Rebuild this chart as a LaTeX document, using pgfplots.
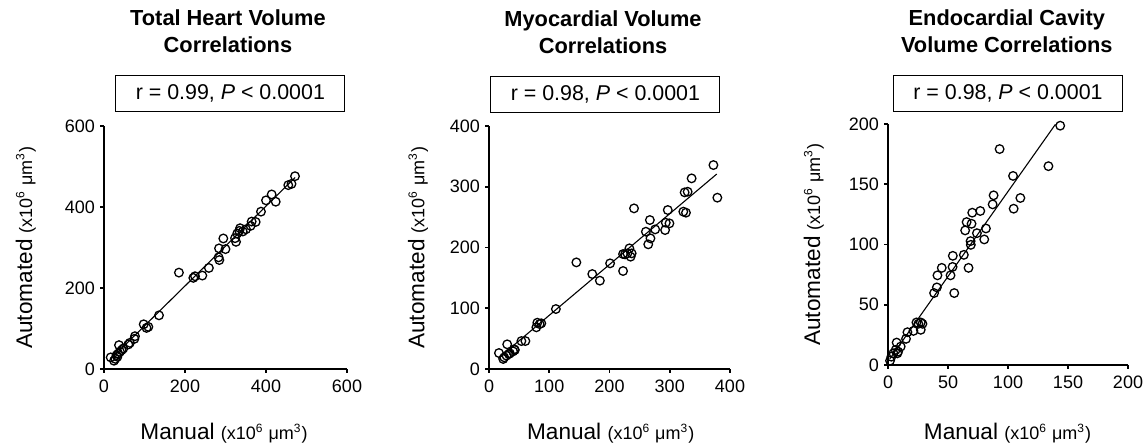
\documentclass[border=0pt]{standalone}
\usepackage{pgfplots}
\pgfplotsset{compat=1.18}
\usepackage{fontspec}
\setmainfont{Liberation Sans}

% 1 px of the reference = 0.5pt
\newcommand{\unitlbl}{{\fontsize{9}{10}\selectfont (x10\textsuperscript{6} μm\textsuperscript{3})}}

\pgfplotsset{
  every axis title shift=0pt,
  panel/.style={
    scale only axis,
    anchor=south west,
    axis lines*=left,
    axis line style={line width=0.85pt, black},
    tick align=outside,
    major tick length=2pt,
    tick style={line width=0.85pt, black},
    minor tick num=0,
    xmin=0, ymin=0,
    clip=false,
    /pgf/number format/assume math mode=true,
    tick label style={font=\fontsize{9}{10}\selectfont},
    yticklabel style={xshift=1pt},
    label style={font=\fontsize{11.3}{13}\selectfont},
    title style={anchor=north, align=center, inner sep=0pt,
      font=\bfseries\fontsize{10.9}{13.5}\selectfont},
    xlabel={Manual \unitlbl},
    ylabel={Automated \unitlbl},
  },
  pts/.style={only marks, mark=o, mark size=2.15pt, black, mark options={line width=0.65pt}},
  fit/.style={no marks, black, line width=0.55pt},
}
\tikzset{rbox/.style={draw, line width=0.5pt, minimum width=114.5pt, minimum height=18pt,
  inner sep=0pt, font=\fontsize{10.7}{12}\selectfont}}

\begin{document}
\begin{tikzpicture}
\path[use as bounding box] (0,0) rectangle (572.5pt,224pt);

% ---- Total heart volume ----
\begin{axis}[panel, at={(52pt,39.5pt)}, width=121.5pt, height=121.5pt,
  xmax=600, ymax=600, xtick={0,200,400,600}, ytick={0,200,400,600},
  title={Total Heart Volume\\Correlations},
  title style={at={(axis description cs:0.51,1.479)}},
  xlabel style={at={(axis description cs:0.494,-0.292)}, anchor=base},
  ylabel style={at={(axis description cs:-0.296,0.5)}, anchor=base}]
\addplot[fit] coordinates {(17,24.7) (472,473)};
\addplot[pts] coordinates {
  (16.5,28.6) (24.7,20.4) (28,25) (31,34) (33,30) (35,38) (37,58.9) (39.5,42.5)
  (43.6,46.6) (47.7,50.7) (60,60.5) (64,64.6) (75,74.4) (76.5,81) (98,110.4)
  (105,101.4) (109.5,104) (135.8,132.5) (185,238) (220.6,225) (224.7,229)
  (242.8,230.7) (259,249.5) (283,275.7) (284.8,269) (284,297.8) (294.6,322.3)
  (300,296) (323.5,323) (326,314) (329,334.6) (334,341) (336,347.6) (342.6,339.5)
  (350.6,345) (362,353.4) (364.6,364) (374.5,363) (387.6,388.5) (400,416.4)
  (414,431) (424,413) (455,454) (463,457) (471.6,476)
};
\node[rbox] at (axis description cs:0.52,1.133) {r = 0.99, \textit{P} < 0.0001};
\end{axis}

% ---- Myocardial volume ----
\begin{axis}[panel, at={(244.5pt,39.5pt)}, width=120.5pt, height=121.5pt,
  xmax=400, ymax=400, xtick={0,100,200,300,400}, ytick={0,100,200,300,400},
  title={Myocardial Volume\\Correlations},
  title style={at={(axis description cs:0.473,1.476)}},
  xlabel style={at={(axis description cs:0.505,-0.292)}, anchor=base},
  ylabel style={at={(axis description cs:-0.268,0.5)}, anchor=base}]
\addplot[fit] coordinates {(15.4,17.6) (378,320.9)};
\addplot[pts] coordinates {
  (16.5,26.3) (23.6,16.5) (25.3,19.2) (29,22) (30.2,40.6) (33,24.7) (34.6,25.8)
  (40,29) (41.8,32.4) (42.9,31.3) (53.8,46) (60.4,46) (78.6,68.6) (80.2,76.2)
  (84,74) (86.8,75.2) (111,98.7) (145,175.5) (171.4,156.3) (184,145.4)
  (201,173.9) (222.5,161.3) (222.5,189.2) (225.8,188.7) (229.7,190.3)
  (233,198.6) (235,184.9) (236.8,190.3) (240.7,264.4) (260.4,226) (264.3,205.2)
  (267,245.2) (268,215) (275.8,229.8) (292.3,228.7) (293.4,240.8) (296.7,261.7)
  (299.5,239.7) (322.5,259) (326.9,257.3) (324.7,290.7) (329.7,291.8)
  (336.3,313.8) (372.5,335.7) (379,282)
};
\node[rbox] at (axis description cs:0.483,1.131) {r = 0.98, \textit{P} < 0.0001};
\end{axis}

% ---- Endocardial cavity volume ----
\begin{axis}[panel, at={(444pt,41.5pt)}, width=120pt, height=120.5pt,
  xmax=200, ymax=200, xtick={0,50,100,150,200}, ytick={0,50,100,150,200},
  title={Endocardial Cavity\\Volume Correlations},
  title style={at={(axis description cs:0.495,1.474)}},
  xlabel style={at={(axis description cs:0.498,-0.311)}, anchor=base},
  ylabel style={at={(axis description cs:-0.283,0.5)}, anchor=base}]
\addplot[fit] coordinates {(1.5,5.1) (139.5,199.7)};
\addplot[pts] coordinates {
  (1.7,3.6) (2.8,6.9) (4.5,9.7) (6.4,12.5) (7.2,18.6) (7.8,9.7) (8.4,11.1)
  (10.6,15.3) (15,21.7) (16.2,27.2) (21.2,28.3) (23.7,35.3) (25.3,34.2)
  (27.3,35.3) (27.3,29.2) (28.7,34.2) (38.4,59.7) (40.7,64.4) (41.2,74.4)
  (44.8,80.6) (52.1,74.4) (53.8,81.4) (54,90.6) (55.2,59.7) (63.2,91.4)
  (64.3,111.7) (65.5,118.6) (67.1,80.6) (68.8,102.8) (69,99.7) (69.6,117.2)
  (70.2,126.4) (74.1,109.4) (76.9,127.8) (80.2,104.2) (81.6,113.3) (87.2,133.3)
  (88,140.8) (93,179.2) (104.2,156.9) (104.7,129.7) (110.3,138.6) (133.7,165)
  (143.5,198.6)
};
\node[rbox] at (axis description cs:0.5,1.127) {r = 0.98, \textit{P} < 0.0001};
\end{axis}
\end{tikzpicture}
\end{document}
